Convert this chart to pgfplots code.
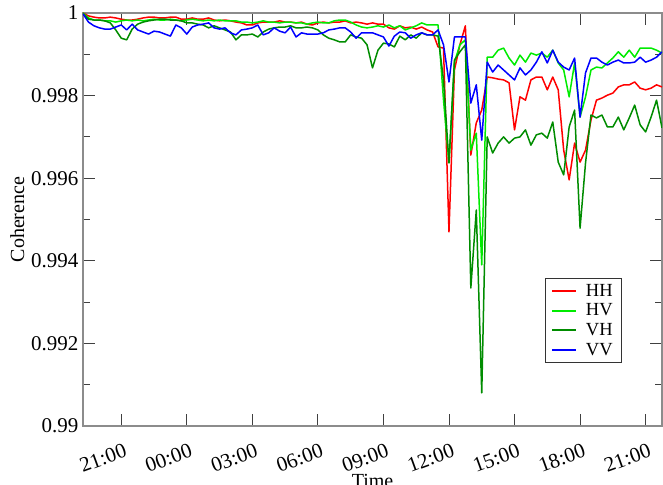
\documentclass[border=0pt]{standalone}
\usepackage{fontspec}
\setmainfont{Liberation Serif}
\usepackage{pgfplots}
\usepackage{pgfplotstable}
\pgfplotsset{compat=1.18}
\definecolor{cHH}{RGB}{255,0,0}
\definecolor{cHV}{RGB}{0,235,0}
\definecolor{cVH}{RGB}{0,140,0}
\definecolor{cVV}{RGB}{0,0,255}
\pgfplotstableread{
t HH HV VH VV
19.25 1.00000 1.00000 0.99998 0.99998
19.5 0.99993 0.99988 0.99985 0.99978
19.75 0.99990 0.99983 0.99983 0.99969
20.0 0.99988 0.99983 0.99983 0.99964
20.25 0.99988 0.99981 0.99981 0.99961
20.5 0.99990 0.99981 0.99976 0.99961
20.75 0.99988 0.99978 0.99959 0.99966
21.0 0.99985 0.99981 0.99939 0.99971
21.25 0.99983 0.99983 0.99935 0.99959
21.5 0.99983 0.99981 0.99961 0.99973
21.75 0.99985 0.99983 0.99973 0.99959
22.0 0.99988 0.99981 0.99978 0.99954
22.25 0.99990 0.99983 0.99981 0.99949
22.5 0.99990 0.99985 0.99983 0.99956
22.75 0.99988 0.99983 0.99985 0.99954
23.0 0.99988 0.99983 0.99985 0.99949
23.25 0.99990 0.99985 0.99983 0.99944
23.5 0.99990 0.99983 0.99983 0.99971
23.75 0.99985 0.99981 0.99981 0.99964
24.0 0.99985 0.99983 0.99976 0.99949
24.25 0.99988 0.99985 0.99976 0.99966
24.5 0.99985 0.99983 0.99973 0.99971
24.75 0.99985 0.99981 0.99971 0.99973
25.0 0.99988 0.99983 0.99964 0.99976
25.25 0.99983 0.99981 0.99969 0.99964
25.5 0.99981 0.99983 0.99964 0.99961
25.75 0.99983 0.99981 0.99959 0.99964
26.0 0.99981 0.99981 0.99954 0.99952
26.25 0.99978 0.99981 0.99935 0.99947
26.5 0.99976 0.99978 0.99947 0.99959
26.75 0.99971 0.99978 0.99947 0.99961
27.0 0.99971 0.99976 0.99949 0.99964
27.25 0.99976 0.99978 0.99942 0.99971
27.5 0.99978 0.99981 0.99954 0.99947
27.75 0.99978 0.99978 0.99961 0.99952
28.0 0.99978 0.99978 0.99964 0.99964
28.25 0.99981 0.99976 0.99966 0.99956
28.5 0.99978 0.99978 0.99966 0.99952
28.75 0.99978 0.99978 0.99969 0.99966
29.0 0.99976 0.99976 0.99964 0.99942
29.25 0.99978 0.99976 0.99964 0.99952
29.5 0.99973 0.99973 0.99966 0.99949
29.75 0.99971 0.99976 0.99964 0.99949
30.0 0.99976 0.99978 0.99959 0.99949
30.25 0.99978 0.99976 0.99947 0.99952
30.5 0.99976 0.99976 0.99939 0.99959
30.75 0.99978 0.99981 0.99935 0.99961
31.0 0.99978 0.99983 0.99930 0.99964
31.25 0.99981 0.99983 0.99930 0.99964
31.5 0.99976 0.99978 0.99947 0.99954
31.75 0.99978 0.99971 0.99942 0.99939
32.0 0.99976 0.99966 0.99939 0.99952
32.25 0.99973 0.99964 0.99923 0.99952
32.5 0.99976 0.99966 0.99867 0.99952
32.75 0.99973 0.99969 0.99910 0.99947
33.0 0.99973 0.99966 0.99927 0.99942
33.25 0.99964 0.99971 0.99925 0.99920
33.5 0.99961 0.99964 0.99918 0.99944
33.75 0.99969 0.99969 0.99944 0.99954
34.0 0.99964 0.99959 0.99935 0.99952
34.25 0.99966 0.99964 0.99947 0.99939
34.5 0.99961 0.99969 0.99939 0.99947
34.75 0.99966 0.99976 0.99952 0.99952
35.0 0.99959 0.99971 0.99947 0.99947
35.25 0.99954 0.99971 0.99947 0.99947
35.5 0.99918 0.99971 0.99944 0.99959
35.75 0.99915 0.99789 0.99838 0.99923
36.0 0.99470 0.99637 0.99637 0.99833
36.25 0.99862 0.99881 0.99886 0.99942
36.5 0.99923 0.99923 0.99906 0.99942
36.75 0.99969 0.99935 0.99923 0.99942
37.0 0.99656 0.99668 0.99334 0.99782
37.25 0.99734 0.99709 0.99523 0.99826
37.5 0.99765 0.99390 0.99080 0.99692
37.75 0.99845 0.99893 0.99700 0.99881
38.0 0.99843 0.99893 0.99661 0.99857
38.25 0.99840 0.99910 0.99685 0.99874
38.5 0.99838 0.99915 0.99700 0.99862
38.75 0.99831 0.99891 0.99685 0.99850
39.0 0.99717 0.99874 0.99697 0.99838
39.25 0.99797 0.99898 0.99700 0.99867
39.5 0.99789 0.99881 0.99717 0.99850
39.75 0.99838 0.99903 0.99680 0.99862
40.0 0.99845 0.99898 0.99705 0.99881
40.25 0.99845 0.99903 0.99709 0.99906
40.5 0.99814 0.99893 0.99697 0.99879
40.75 0.99845 0.99910 0.99736 0.99910
41.0 0.99814 0.99879 0.99639 0.99881
41.25 0.99668 0.99862 0.99608 0.99869
41.5 0.99596 0.99797 0.99724 0.99862
41.75 0.99685 0.99879 0.99765 0.99891
42.0 0.99639 0.99748 0.99479 0.99748
42.25 0.99668 0.99797 0.99637 0.99855
42.5 0.99741 0.99862 0.99753 0.99891
42.75 0.99789 0.99869 0.99746 0.99891
43.0 0.99794 0.99867 0.99753 0.99881
43.25 0.99801 0.99879 0.99724 0.99874
43.5 0.99806 0.99891 0.99724 0.99881
43.75 0.99821 0.99906 0.99748 0.99886
44.0 0.99826 0.99893 0.99717 0.99879
44.25 0.99826 0.99910 0.99746 0.99879
44.5 0.99833 0.99893 0.99777 0.99881
44.75 0.99818 0.99915 0.99729 0.99893
45.0 0.99814 0.99915 0.99712 0.99881
45.25 0.99818 0.99915 0.99748 0.99886
45.5 0.99826 0.99910 0.99789 0.99893
45.75 0.99821 0.99903 0.99722 0.99906
}\coh

\begin{document}
\begin{tikzpicture}
\path[use as bounding box] (-83pt,-58pt) rectangle (580pt,426pt);
\begin{axis}[
  at={(0pt,0pt)}, anchor=south west,
  scale only axis, width=579pt, height=413pt,
  xmin=19.25, xmax=45.75, ymin=0.99, ymax=1,
  xtick={21,24,27,30,33,36,39,42,45},
  xticklabels={21:00,00:00,03:00,06:00,09:00,12:00,15:00,18:00,21:00},
  ytick={0.99,0.992,0.994,0.996,0.998,1},
  yticklabels={0.99,0.992,0.994,0.996,0.998,1},
  minor ytick={0.991,0.993,0.995,0.997,0.999},
  tick align=inside,
  major tick length=12pt, minor tick length=7pt,
  axis line style={draw=black!45, line width=1.3pt},
  tick style={black!75, line width=0.9pt},
  tick label style={font=\fontsize{21}{25}\selectfont},
  x tick label style={inner sep=0pt, xshift=2pt, yshift=-17pt, rotate=20, anchor=north east},
  y tick label style={xshift=-1pt},
  xlabel={Time}, ylabel={Coherence},
  label style={font=\fontsize{20}{24}\selectfont},
  xlabel style={yshift=2pt},
  legend style={at={(0.929,0.153)}, anchor=south east, draw=black!80,
    font=\fontsize{18.5}{21}\selectfont, inner xsep=6pt, inner ysep=4pt, row sep=2pt},
  legend cell align=left,
  legend image code/.code={\draw[#1, line width=2pt] (0pt,0pt) -- (24pt,0pt); \path (31pt,0pt);},
]
\addplot[cHH, line width=1.5pt, line join=round] table[x=t,y=HH]{\coh};
\addplot[cHV, line width=1.5pt, line join=round] table[x=t,y=HV]{\coh};
\addplot[cVH, line width=1.5pt, line join=round] table[x=t,y=VH]{\coh};
\addplot[cVV, line width=1.5pt, line join=round] table[x=t,y=VV]{\coh};
\legend{HH,HV,VH,VV}
\end{axis}
\end{tikzpicture}
\end{document}
